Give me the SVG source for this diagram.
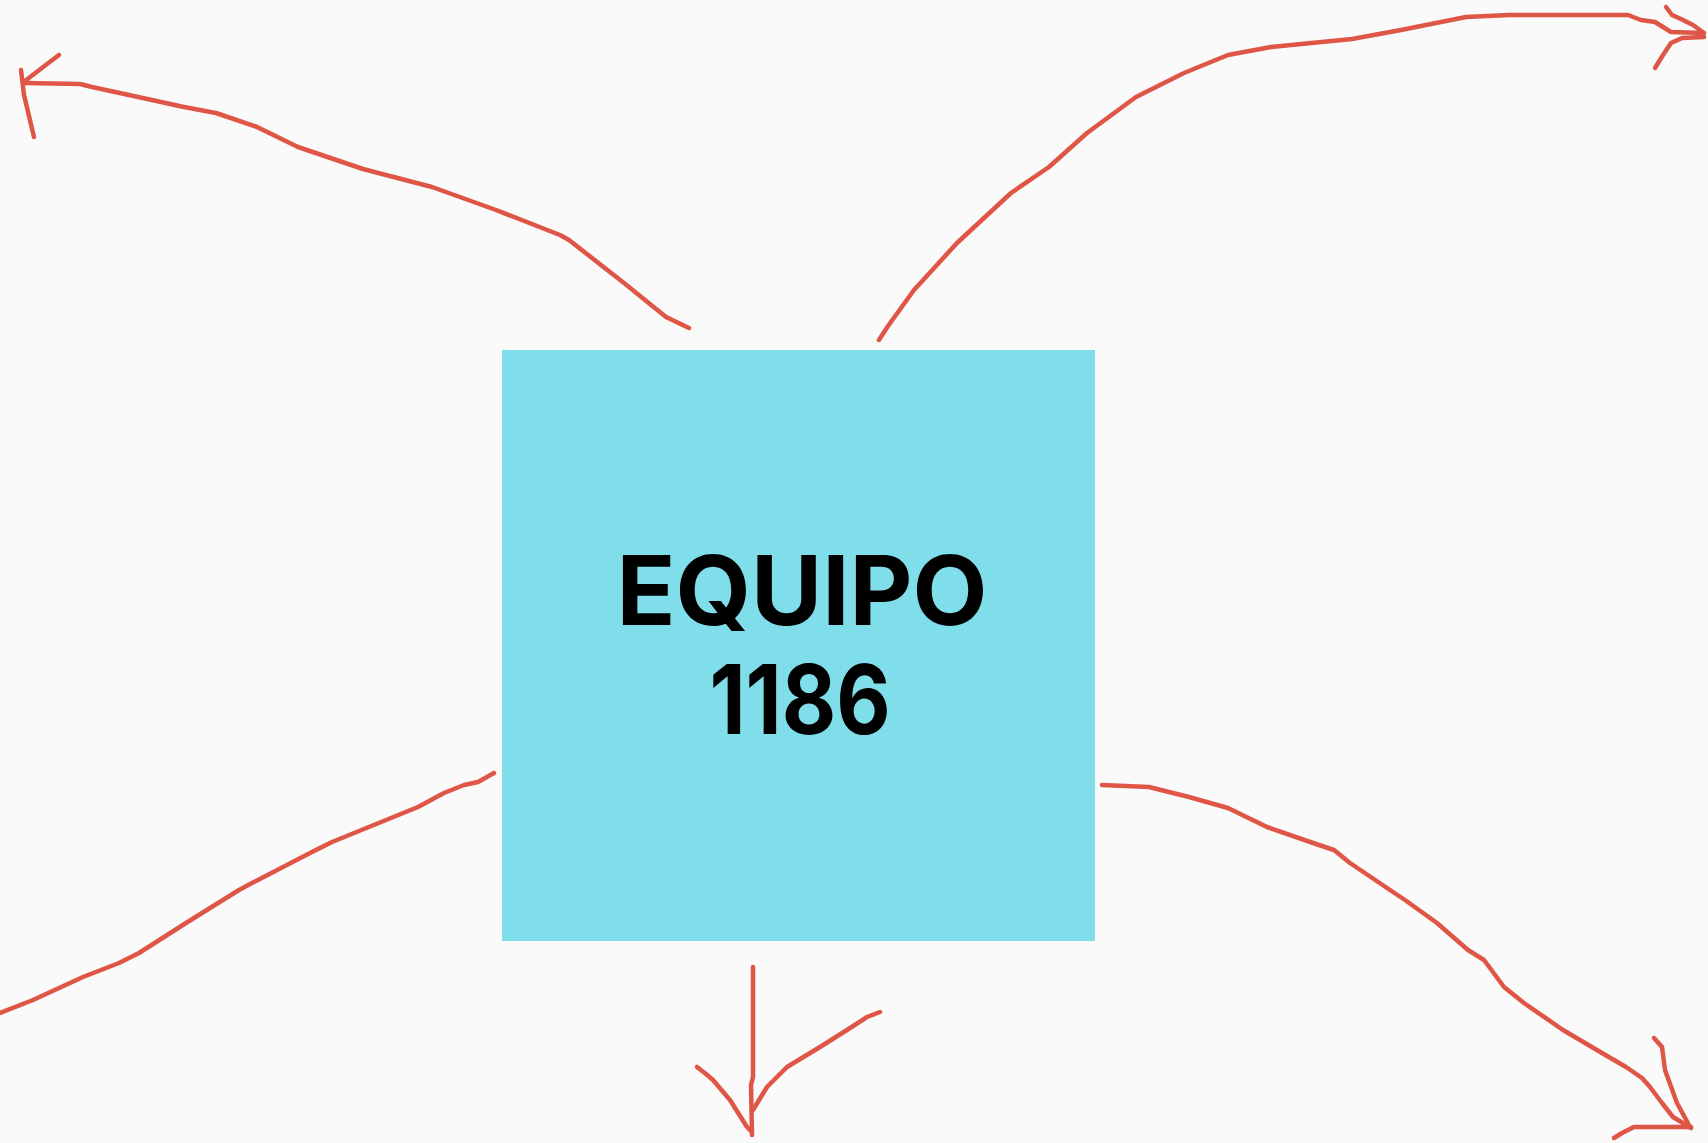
<svg xmlns="http://www.w3.org/2000/svg" width="1708" height="1143" viewBox="0 0 1708 1143">
<style>
.bg{fill:#FAFAFA}
.node{fill:#80DEEA}
.lbl{font-family:Inter,"Liberation Sans",Arial,sans-serif;font-weight:bold;font-size:96px;fill:#000;text-anchor:middle}
.c{fill:none;stroke:#DF5647;stroke-width:4.5;stroke-linecap:round;stroke-linejoin:round}
</style>
<rect class="bg" x="0" y="0" width="1708" height="1143"/>
<g id="connectors">
<g id="arrow-top-left">
<path class="c" d="M25,83 L80,84 L92,87 L129,95 L184,107 L216,113 L257,127 L298,147 L363,169 L432,187 L496,210 L560,235 L569,240 L624,283 L666,317 L689,328"/>
<path class="c" d="M59,55 L47,64 L25,81"/>
<path class="c" d="M21,70 L24,95 L34,137"/>
</g>
<g id="arrow-top-right">
<path class="c" d="M879,340 L888,326 L914,290 L957,243 L1011,193 L1049,167 L1087,133 L1136,97 L1184,73 L1228,55 L1271,47 L1352,39 L1401,30 L1466,17 L1509,15 L1628,15 L1641,20 L1655,22 L1671,32 L1704,33"/>
<path class="c" d="M1666,7 L1672,15 L1681,19 L1693,25 L1704,33"/>
<path class="c" d="M1655,68 L1663,55 L1671,43 L1682,38 L1704,37"/>
</g>
<g id="arrow-bottom-left">
<path class="c" d="M494,773 L478,782 L464,785 L444,793 L418,807 L332,842 L312,852 L252,883 L239,890 L186,923 L139,953 L119,963 L83,977 L33,1000 L0,1013"/>
</g>
<g id="arrow-bottom">
<path class="c" d="M753,967 L753,1077 L751,1085 L752,1135"/>
<path class="c" d="M697,1067 L706,1074 L713,1080 L730,1100 L747,1127 L752,1132"/>
<path class="c" d="M880,1012 L867,1017 L847,1030 L820,1047 L787,1067 L767,1087 L753,1110"/>
</g>
<g id="arrow-bottom-right">
<path class="c" d="M1102,785 L1149,787 L1189,797 L1228,808 L1267,827 L1319,845 L1334,850 L1350,863 L1390,890 L1405,900 L1437,923 L1468,950 L1484,960 L1504,987 L1524,1003 L1563,1030 L1602,1053 L1626,1067 L1642,1078 L1650,1087 L1662,1103 L1673,1117 L1691,1128"/>
<path class="c" d="M1654,1038 L1662,1047 L1665,1070 L1677,1103 L1690,1127"/>
<path class="c" d="M1614,1138 L1622,1133 L1634,1127 L1691,1127"/>
</g>
</g>
<g id="node-equipo">
<rect class="node" x="502" y="350" width="593" height="591"/>
<text class="lbl" x="802" y="625" textLength="371" lengthAdjust="spacingAndGlyphs">EQUIPO</text>
<text class="lbl" x="800" y="734" textLength="181" lengthAdjust="spacingAndGlyphs">1186</text>
</g>
</svg>
